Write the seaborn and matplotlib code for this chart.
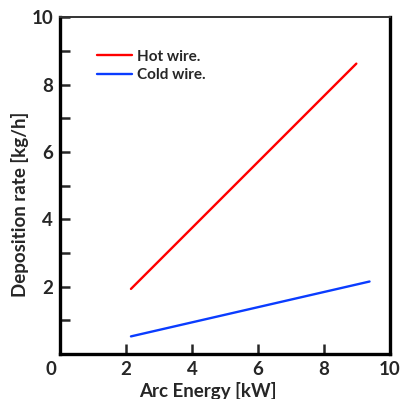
import matplotlib.pyplot as plt
import matplotlib.transforms as mtransforms
import seaborn as sns
import pandas as pd

hot_x = [2.15, 8.98]
hot_y = [1.93, 8.62]
cold_x = [2.15, 9.38]
cold_y = [0.52, 2.15]

df = pd.concat([
    pd.DataFrame({"x": hot_x, "y": hot_y, "wire": "Hot wire."}),
    pd.DataFrame({"x": cold_x, "y": cold_y, "wire": "Cold wire."}),
])

sns.set_theme(style="white")
plt.rcParams['font.family'] = ['Lato', 'DejaVu Sans']

fig = plt.figure(figsize=(4, 3.99), dpi=100)
ax = fig.add_axes([0.15, 0.113, 0.825, 0.844])
sns.lineplot(data=df, x="x", y="y", hue="wire", palette=["#ff0000", "#0a3cff"],
             linewidth=1.7, ax=ax)

ax.set_xlim(0, 10)
ax.set_ylim(0, 10)
ax.set_xticks([0, 2, 4, 6, 8, 10])
ax.set_yticks([2, 4, 6, 8, 10])
ax.set_yticks([1, 3, 5, 7, 9], minor=True)
ax.tick_params(axis="both", direction="in", length=7.5, width=1.8, labelsize=13.5, pad=5)
ax.tick_params(axis="y", which="minor", direction="in", length=7.5, width=1.8, left=True)
ax.tick_params(axis="x", bottom=True)
ax.tick_params(axis="y", left=True)
for lbl in ax.get_xticklabels() + ax.get_yticklabels():
    lbl.set_fontweight("bold")
# the corner "0" sits a little left of the origin in the reference
shift = mtransforms.ScaledTranslation(-9 / 100, 0, fig.dpi_scale_trans)
xl = ax.get_xticklabels()
xl[0].set_transform(xl[0].get_transform() + shift)

for side in ["left", "bottom", "right"]:
    ax.spines[side].set_linewidth(2.4)
    ax.spines[side].set_color("black")
ax.spines["top"].set_linewidth(1.4)
ax.spines["top"].set_color("#333333")

ax.set_xlabel("Arc Energy [kW]", fontsize=13.5, fontweight="bold")
ax.set_ylabel("Deposition rate [kg/h]", fontsize=13.5, fontweight="bold")
ax.xaxis.set_label_coords(0.448, -0.083)
ax.yaxis.set_label_coords(-0.095, 0.444)

leg = ax.legend(loc="upper left", frameon=False, prop={"weight": "bold", "size": 11},
                handlelength=2.3, handletextpad=0.35, labelspacing=0.3,
                borderpad=0, borderaxespad=0, bbox_to_anchor=(0.111, 0.903))

fig.savefig("out.png", dpi=100)
